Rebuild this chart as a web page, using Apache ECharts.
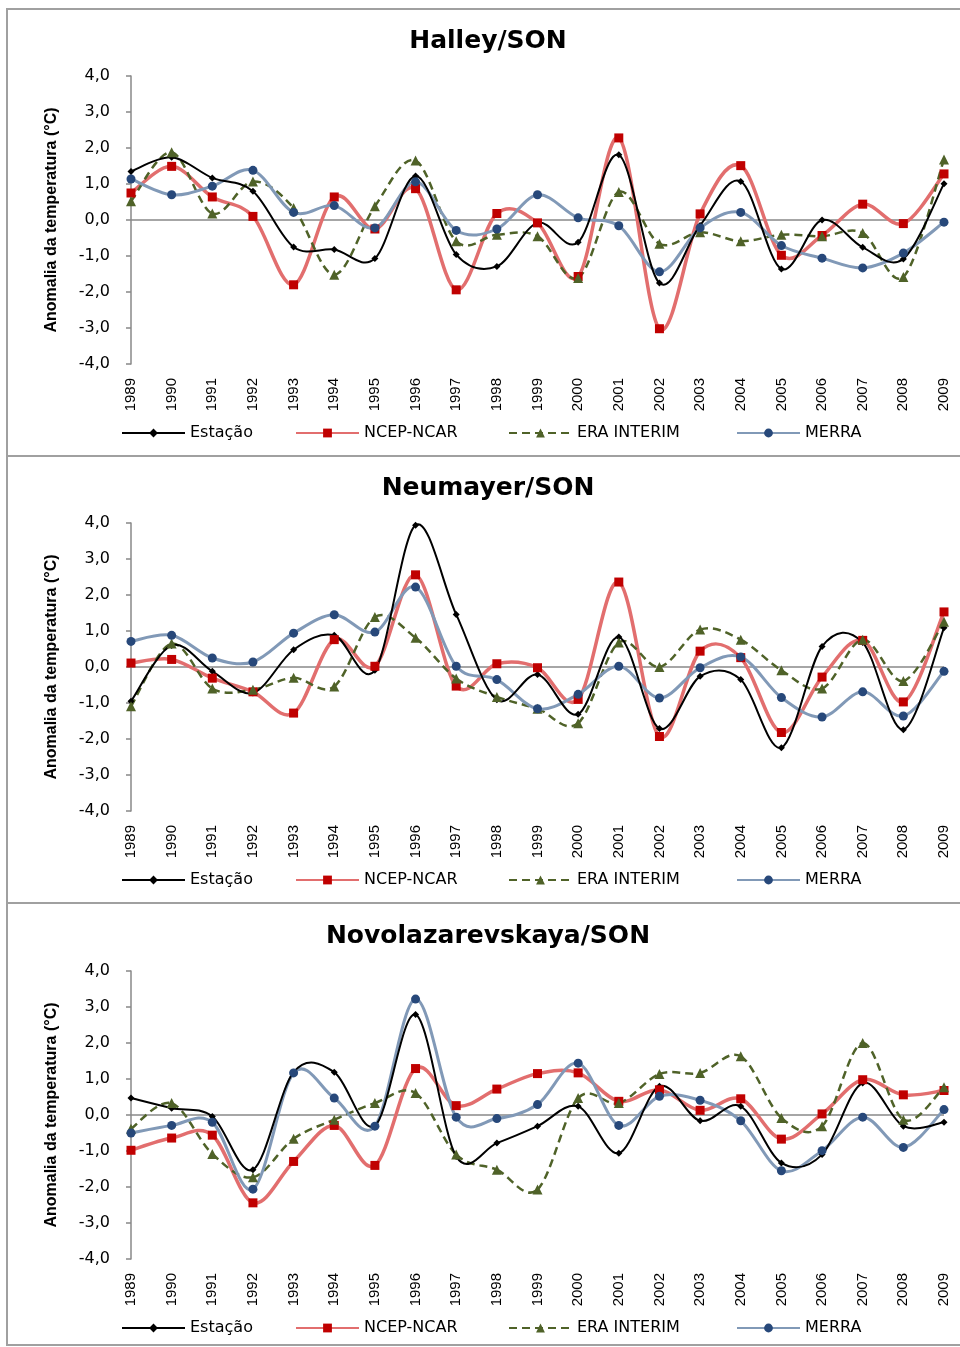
<!DOCTYPE html>
<html>
<head>
<meta charset="utf-8">
<script src="https://cdn.jsdelivr.net/npm/echarts@6/dist/echarts.min.js"></script>
<style>html,body{margin:0;padding:0;background:#fff}#c{width:960px;height:1347px}</style>
</head>
<body>
<div id="c"></div>
<script>
const years = ['1989','1990','1991','1992','1993','1994','1995','1996','1997','1998','1999','2000','2001','2002','2003','2004','2005','2006','2007','2008','2009'];
const seriesNames = ['Estação','NCEP-NCAR','ERA INTERIM','MERRA'];
const panelTitles = ['Halley/SON','Neumayer/SON','Novolazarevskaya/SON'];
const yAxisName = 'Anomalia da temperatura (°C)';

// Halley
const halleyEstacao = [1.35,1.74,1.17,0.80,-0.75,-0.82,-1.07,1.22,-0.96,-1.29,-0.08,-0.62,1.81,-1.75,-0.15,1.07,-1.36,0.0,-0.76,-1.08,1.01];
const halleyNcep    = [0.75,1.49,0.64,0.10,-1.80,0.64,-0.25,0.87,-1.94,0.18,-0.08,-1.57,2.28,-3.02,0.17,1.51,-0.98,-0.43,0.44,-0.10,1.28];
const halleyEra     = [0.52,1.88,0.18,1.07,0.33,-1.52,0.38,1.65,-0.59,-0.41,-0.45,-1.61,0.78,-0.66,-0.34,-0.59,-0.41,-0.45,-0.36,-1.58,1.68];
const halleyMerra   = [1.14,0.70,0.94,1.38,0.21,0.40,-0.22,1.06,-0.29,-0.25,0.70,0.06,-0.16,-1.44,-0.22,0.21,-0.71,-1.06,-1.33,-0.92,-0.06];

// Neumayer
const neumayerEstacao = [-0.95,0.60,-0.12,-0.72,0.48,0.88,-0.09,3.94,1.46,-0.91,-0.21,-1.31,0.83,-1.71,-0.26,-0.35,-2.24,0.57,0.68,-1.74,1.09];
const neumayerNcep    = [0.11,0.21,-0.31,-0.69,-1.28,0.76,0.02,2.56,-0.53,0.09,-0.02,-0.90,2.36,-1.93,0.44,0.26,-1.82,-0.28,0.74,-0.97,1.53];
const neumayerEra     = [-1.09,0.65,-0.60,-0.63,-0.30,-0.54,1.39,0.81,-0.32,-0.83,-1.16,-1.56,0.68,0.0,1.04,0.76,-0.09,-0.60,0.76,-0.39,1.26];
const neumayerMerra   = [0.71,0.88,0.25,0.14,0.94,1.45,0.97,2.22,0.02,-0.35,-1.16,-0.76,0.02,-0.86,-0.02,0.28,-0.85,-1.39,-0.69,-1.36,-0.12];

// Novolazarevskaya
const novoEstacao = [0.47,0.19,-0.04,-1.52,1.19,1.19,-0.30,2.79,-1.15,-0.78,-0.31,0.24,-1.06,0.80,-0.16,0.24,-1.33,-1.10,0.89,-0.31,-0.20];
const novoNcep    = [-0.98,-0.64,-0.56,-2.44,-1.29,-0.29,-1.40,1.29,0.26,0.72,1.15,1.17,0.38,0.70,0.13,0.45,-0.67,0.03,0.98,0.56,0.68];
const novoEra     = [-0.38,0.33,-1.08,-1.73,-0.66,-0.13,0.33,0.61,-1.10,-1.52,-2.07,0.47,0.33,1.14,1.17,1.63,-0.08,-0.31,2.00,-0.13,0.77];
const novoMerra   = [-0.50,-0.29,-0.20,-2.06,1.17,0.47,-0.31,3.22,-0.06,-0.10,0.29,1.44,-0.29,0.52,0.41,-0.16,-1.55,-0.99,-0.06,-0.90,0.15];

const panels = [
  [halleyEstacao, halleyNcep, halleyEra, halleyMerra],
  [neumayerEstacao, neumayerNcep, neumayerEra, neumayerMerra],
  [novoEstacao, novoNcep, novoEra, novoMerra]
];

const gridTops = [76, 523, 971];
const gridH = 288;
const panelBoxes = [[7, 9, 447], [7, 456, 447], [7, 903, 442]];
const legendLefts = [116, 290, 503, 731];

const styles = [
  {color:'#000000', line:{color:'#000000', width:2, type:'solid'}, dash:null, symbol:'diamond', size:7},
  {color:'#c00000', line:{color:'#e26e6e', width:3.5, type:'solid'}, dash:null, symbol:'rect', size:9},
  {color:'#4f6228', line:{color:'#4f6228', width:2.5, type:[8,5]}, dash:[8,5], symbol:'triangle', size:10},
  {color:'#27487a', line:{color:'#8199b7', width:3, type:'solid'}, dash:null, symbol:'circle', size:9}
];

const option = {
  animation: false,
  backgroundColor: '#ffffff',
  title: [], grid: [], xAxis: [], yAxis: [], legend: [], series: [],
  graphic: panelBoxes.map(b => ({
    type:'rect', silent:true, z:-1,
    shape:{x:b[0], y:b[1], width:980, height:b[2]},
    style:{fill:'none', stroke:'#a0a0a0', lineWidth:2}
  }))
};

// Smooth (Catmull-Rom style) segment drawn between consecutive data points
function smoothRenderer(vals, st) {
  return function (params, api) {
    const j = params.dataIndex;
    if (j >= vals.length - 1) return null;
    const c = k => api.coord([k, vals[k]]);
    const p1 = c(j), p2 = c(j + 1);
    const p0 = j > 0 ? c(j - 1) : p1;
    const p3 = j + 2 < vals.length ? c(j + 2) : p2;
    return {
      type:'bezierCurve',
      shape:{
        x1:p1[0], y1:p1[1], x2:p2[0], y2:p2[1],
        cpx1:p1[0] + (p2[0] - p0[0]) / 6, cpy1:p1[1] + (p2[1] - p0[1]) / 6,
        cpx2:p2[0] - (p3[0] - p1[0]) / 6, cpy2:p2[1] - (p3[1] - p1[1]) / 6
      },
      style:{fill:'none', stroke:st.line.color, lineWidth:st.line.width, lineDash:st.dash, lineCap:'butt'}
    };
  };
}

const curveSeries = [];

panels.forEach((data, p) => {
  const top = gridTops[p];
  option.title.push({
    text: panelTitles[p], left:483, textAlign:'center', top: top - 52,
    textStyle:{fontFamily:'DejaVu Sans', fontWeight:'bold', fontSize:25, color:'#000'}
  });
  option.grid.push({left:131, right:16, top:top, height:gridH});
  option.xAxis.push({
    type:'category', gridIndex:p, data:years, boundaryGap:false,
    axisLine:{show:false}, axisTick:{show:false},
    axisLabel:{rotate:90, margin:14, fontFamily:'Liberation Sans', fontSize:15, color:'#000', interval:0}
  });
  option.yAxis.push({
    type:'value', gridIndex:p, min:-4, max:4, interval:1,
    name: yAxisName, nameLocation:'middle', nameGap:71,
    nameTextStyle:{fontFamily:'Liberation Sans', fontWeight:'bold', fontSize:16, color:'#000'},
    axisLine:{show:true, lineStyle:{color:'#888', width:1.5}},
    axisTick:{show:true, length:5, lineStyle:{color:'#888', width:1.5}},
    splitLine:{show:false},
    axisLabel:{margin:21, fontFamily:'DejaVu Sans', fontSize:16, color:'#000',
      formatter: v => v.toFixed(1).replace('.', ',')}
  });
  seriesNames.forEach((nm, i) => {
    option.legend.push({
      data:[{name:nm, lineStyle:{opacity:1}}], left:legendLefts[i], top: top + gridH + 56,
      itemWidth:63, itemHeight:11,
      textStyle:{fontFamily:'DejaVu Sans', fontSize:16, color:'#000'}
    });
  });
  data.forEach((vals, i) => {
    const s = styles[i];
    const ser = {
      name: seriesNames[i], type:'line', xAxisIndex:p, yAxisIndex:p,
      data: vals, symbol:s.symbol, symbolSize:s.size,
      itemStyle:{color:s.color}, lineStyle:Object.assign({}, s.line, {opacity:0}),
      z: 5 + i
    };
    if (i === 0) {
      ser.markLine = {silent:true, symbol:'none', label:{show:false},
        lineStyle:{color:'#888', width:1.5, type:'solid', opacity:1}, data:[{yAxis:0}], z:1};
    }
    option.series.push(ser);
    curveSeries.push({
      name: seriesNames[i], type:'custom', xAxisIndex:p, yAxisIndex:p, silent:true,
      data: vals.map((v, j) => [j, v]), encode:{x:0, y:1},
      renderItem: smoothRenderer(vals, s), z: i === 0 ? 4 : 2 + i * 0.1
    });
  });
});
option.series = option.series.concat(curveSeries);

const chart = echarts.init(document.getElementById('c'), null, {renderer:'canvas'});
chart.setOption(option);
</script>
</body>
</html>
